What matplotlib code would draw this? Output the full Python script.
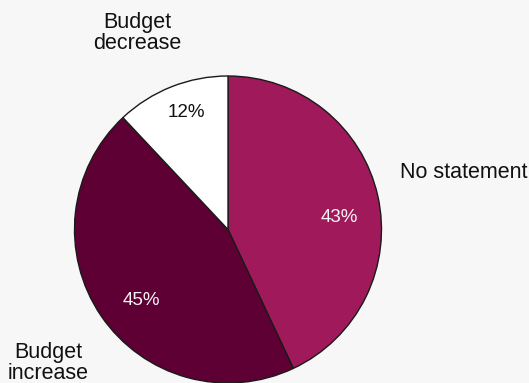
import matplotlib
matplotlib.use("Agg")
import matplotlib.pyplot as plt
import numpy as np

# Survey answers on budget plans
categories = ["No statement", "Budget increase", "Budget decrease"]
shares = [43, 45, 12]
colors = ["#A0195A", "#5E0033", "#FFFFFF"]
pct_text_colors = ["#F5F5F5", "#F5F5F5", "#111111"]

W, H = 529, 383
BG = "#F7F7F7"
plt.rcParams["font.family"] = ["Liberation Sans", "DejaVu Sans"]

fig = plt.figure(figsize=(W / 100, H / 100), dpi=100, facecolor=BG)
ax = fig.add_axes([0, 0, 1, 1])
ax.set_facecolor(BG)

cx, cy, r = 228, H - 229.5, 153.5
wedges, _ = ax.pie(
    shares,
    colors=colors,
    startangle=90,
    counterclock=False,
    center=(cx, cy),
    radius=r,
    wedgeprops=dict(edgecolor="#1a1a1a", linewidth=1.0),
)
ax.set_xlim(0, W)
ax.set_ylim(0, H)
ax.set_aspect("equal")
ax.axis("off")

# percentage labels placed inside each wedge (angle offset in degrees, radial fraction)
pct_place = [(-6.5, 0.73), (5.0, 0.73), (-2.0, 0.81)]
for w, val, tc, (dang, frac) in zip(wedges, shares, pct_text_colors, pct_place):
    mid = np.deg2rad((w.theta1 + w.theta2) / 2 + dang)
    ax.text(cx + frac * r * np.cos(mid), cy + frac * r * np.sin(mid), f"{val}%",
            ha="center", va="center", fontsize=13.5, color=tc)

# category labels outside the pie
ax.text(400, H - 172, categories[0], ha="left", va="center", fontsize=15.5, color="#111111")
ax.text(48, H - 363, "Budget\nincrease", ha="center", va="center", fontsize=15.5,
        color="#111111", linespacing=0.95)
ax.text(137, H - 33, "Budget\ndecrease", ha="center", va="center", fontsize=15.5,
        color="#111111", linespacing=0.95)

fig.savefig("out.png", dpi=100, facecolor=BG)
